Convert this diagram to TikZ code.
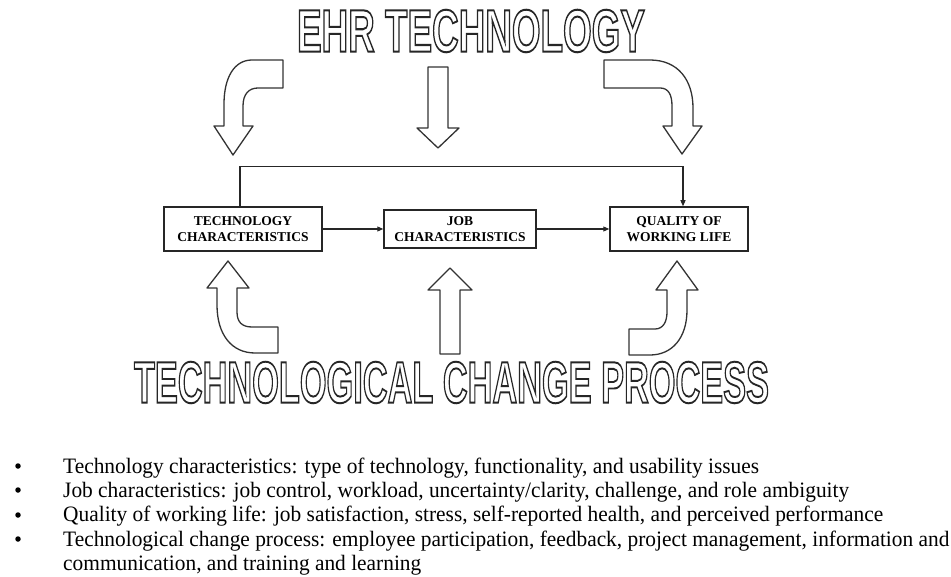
\documentclass[tikz,border=0pt]{standalone}
\usepackage{fontspec}
\setmainfont{Liberation Serif}
\newfontfamily\titlefont{Liberation Sans}
\newfontfamily\listfont{Liberation Serif}[FakeStretch=0.972]
\usetikzlibrary{arrows.meta}

% hollow (stroked only) heading squeezed into a fixed box
\newcommand{\hollowtitle}[4]{%
  \resizebox{#1}{#2}{\special{pdf:literal direct 1 Tr #4 w}%
    {\titlefont\bfseries\fontsize{60}{60}\selectfont #3}%
    \special{pdf:literal direct 0 Tr}}}

\tikzset{
  bigarrow/.style={draw=black!80, line width=1.3pt, fill=white, line join=round},
  factor/.style={draw=black!85, line width=1.5pt, inner sep=0pt, align=center,
    font=\bfseries\fontsize{13.5}{16.5}\selectfont},
  conn/.style={draw=black!85, line width=1.1pt, -{Triangle[length=6pt,width=5pt]}},
  listtext/.style={anchor=base west, inner sep=0pt, font=\listfont\fontsize{22}{24}\selectfont},
  bulletdot/.style={circle, fill=black, inner sep=0pt, minimum size=5.5pt}
}

\begin{document}
\begin{tikzpicture}[x=1pt, y=-1pt]
\useasboundingbox (0,0) rectangle (951,577);
\fill[white] (0,0) rectangle (951,577);

% headings
\node[inner sep=0pt, text=black!85] (ehr) at (471,31) {\hollowtitle{348pt}{42pt}{EHR TECHNOLOGY}{2}};
\node[inner sep=0pt, text=black!85] (tcp) at (451.5,382.5) {\hollowtitle{635pt}{41pt}{TECHNOLOGICAL CHANGE PROCESS}{2}};

% block arrows from the top heading
\draw[bigarrow] (283,60) -- (252,60) .. controls (234,60) and (224,78) .. (224,104)
  -- (224,126) -- (214,126) -- (233,155) -- (253,126) -- (243,126) -- (243,106)
  .. controls (243,94) and (249,88) .. (258,88) -- (283,88) -- cycle;
\draw[bigarrow] (428,67) -- (448,67) -- (448,128) -- (459,128) -- (438,148)
  -- (417,128) -- (428,128) -- cycle;
\draw[bigarrow] (604,60) -- (650,60) .. controls (678,60) and (693,80) .. (693,108)
  -- (693,126) -- (702,126) -- (682,154) -- (663,126) -- (672,126) -- (672,106)
  .. controls (672,94) and (668,88) .. (660,88) -- (604,88) -- cycle;

% block arrows from the bottom heading
\draw[bigarrow] (228,261) -- (249,288) -- (237,288) -- (237,312)
  .. controls (237,322) and (242,327) .. (252,327) -- (278,327) -- (278,353)
  -- (255,353) .. controls (232,353) and (217,335) .. (217,305)
  -- (217,288) -- (207,288) -- cycle;
\draw[bigarrow] (450,268) -- (472,290) -- (460,290) -- (460,354) -- (440,354)
  -- (440,290) -- (428,290) -- cycle;
\draw[bigarrow] (677,261) -- (698,290) -- (687,290) -- (687,310)
  .. controls (687,338) and (672,355) .. (650,355) -- (629,355) -- (629,329)
  -- (655,329) .. controls (663,329) and (667,322) .. (667,312)
  -- (667,290) -- (656,290) -- cycle;

% factor boxes
\node[factor, minimum width=158pt, minimum height=44pt] (tech) at (243,229)
  {TECHNOLOGY\\CHARACTERISTICS};
\node[factor, minimum width=152pt, minimum height=38pt] (job) at (460,229)
  {JOB\\CHARACTERISTICS};
\node[factor, minimum width=138pt, minimum height=44pt] (qwl) at (679,229)
  {QUALITY OF\\WORKING LIFE};

% relations
\draw[conn] (tech) -- (job);
\draw[conn] (job) -- (qwl);
\draw[conn] ([xshift=-3pt]tech.north) -- ++(0,-40) -| ([xshift=4pt]qwl.north);

% legend
\node[bulletdot] (b1) at (18,466) {};
\node[bulletdot] (b2) at (18,490) {};
\node[bulletdot] (b3) at (18,515) {};
\node[bulletdot] (b4) at (18,539) {};
\node[listtext] (l1) at (63,473) {Technology characteristics: type of technology, functionality, and usability issues};
\node[listtext] (l2) at (63,497) {Job characteristics: job control, workload, uncertainty/clarity, challenge, and role ambiguity};
\node[listtext] (l3) at (63,521.5) {Quality of working life: job satisfaction, stress, self-reported health, and perceived performance};
\node[listtext] (l4) at (63,546) {Technological change process: employee participation, feedback, project management, information and};
\node[listtext] (l5) at (63,570) {communication, and training and learning};
\end{tikzpicture}
\end{document}
